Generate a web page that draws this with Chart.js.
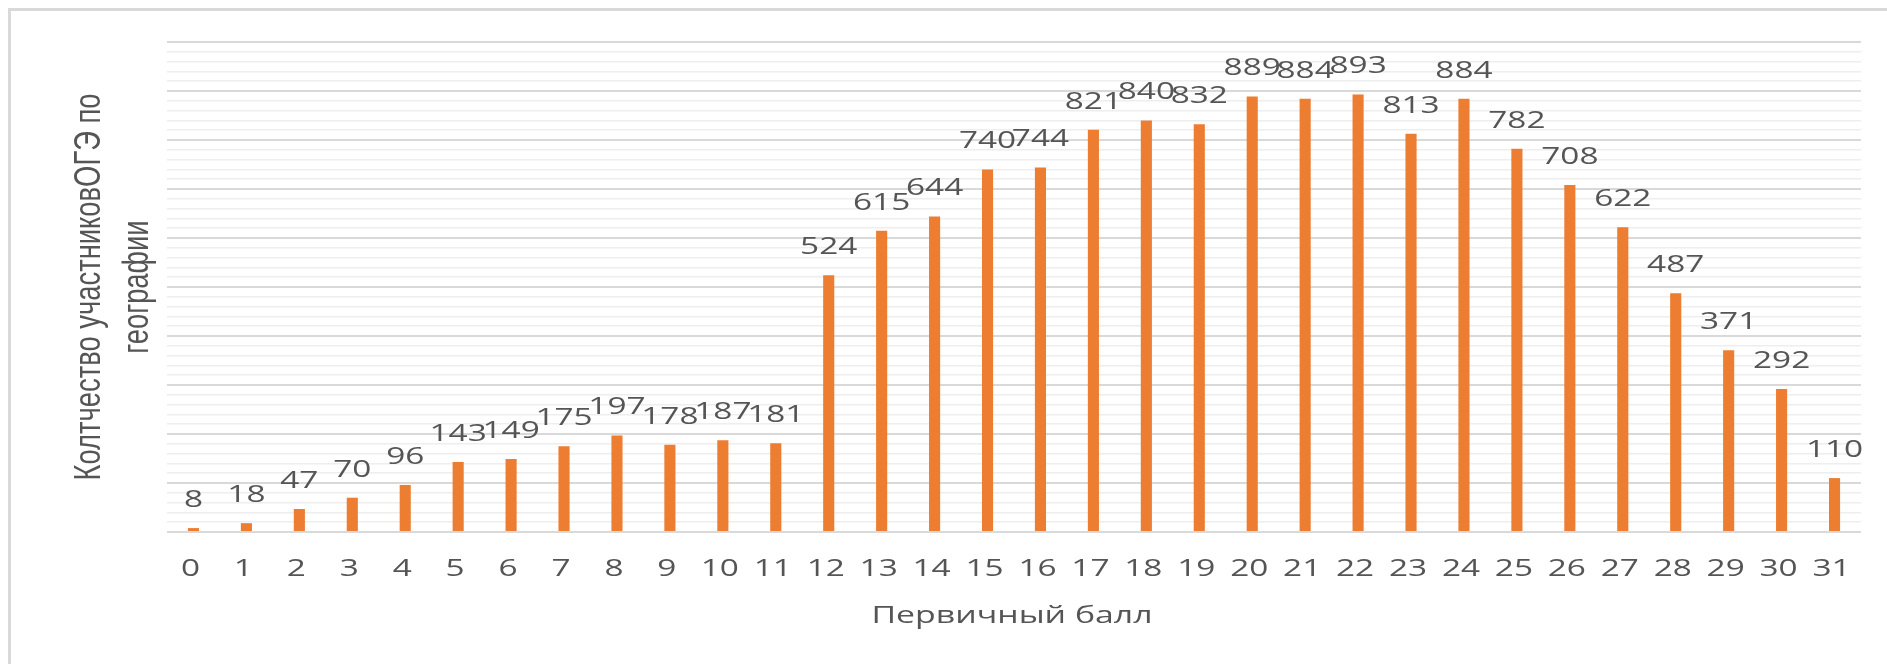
<!DOCTYPE html>
<html>
<head>
<meta charset="utf-8">
<script src="https://cdn.jsdelivr.net/npm/chart.js@4.4.1/dist/chart.umd.min.js"></script>
<style>
  html, body { margin: 0; padding: 0; background: #ffffff; }
  #wrap { width: 1887px; height: 664px; position: relative; }
</style>
</head>
<body>
<div id="wrap"><canvas id="c" width="1887" height="664"></canvas></div>
<script>
// ---- data ----
const categories = ['0','1','2','3','4','5','6','7','8','9','10','11','12','13','14','15','16','17','18','19','20','21','22','23','24','25','26','27','28','29','30','31'];
const counts = [8, 18, 47, 70, 96, 143, 149, 175, 197, 178, 187, 181, 524, 615, 644, 740, 744, 821, 840, 832, 889, 884, 893, 813, 884, 782, 708, 622, 487, 371, 292, 110];
const yTitleLines = ['Колтчество участниковОГЭ по', 'географии'];
const xTitle = 'Первичный балл';
const yMin = 0, yMax = 1000, yMinorStep = 20, yMajorStep = 100;

// ---- styles ----
const BAR = '#ed7d31';
const TEXT = '#555555';
const NUM_FONT = '23px "Open Sans"';
const STRETCH = 1.45;

function stretchedText(ctx, text, x, baseY, sx) {
  ctx.save();
  ctx.translate(x, baseY);
  ctx.scale(sx, 1);
  ctx.textAlign = 'center';
  ctx.textBaseline = 'alphabetic';
  ctx.fillText(text, 0, 0);
  ctx.restore();
}

const decorPlugin = {
  id: 'decor',
  beforeDraw(chart) {
    const ctx = chart.ctx;
    ctx.save();
    ctx.fillStyle = '#ffffff';
    ctx.fillRect(0, 0, chart.width, chart.height);
    ctx.fillStyle = '#d9d9d9';
    ctx.fillRect(8, 8, chart.width, 3);
    ctx.fillRect(8, 8, 3, chart.height);
    ctx.restore();
  },
  afterDatasetsDraw(chart) {
    const ctx = chart.ctx;
    const meta = chart.getDatasetMeta(0);
    const xs = chart.scales.x;
    const area = chart.chartArea;
    ctx.save();
    ctx.fillStyle = TEXT;
    ctx.font = NUM_FONT;
    // data labels
    meta.data.forEach((el, i) => {
      stretchedText(ctx, String(counts[i]), el.x, el.y - 21, STRETCH);
    });
    // category tick labels
    categories.forEach((c, i) => {
      stretchedText(ctx, c, xs.getPixelForTick(i) - 3, area.bottom + 44, STRETCH);
    });
    // x title
    ctx.font = '24px "Open Sans"';
    const w = ctx.measureText(xTitle).width;
    stretchedText(ctx, xTitle, (area.left + area.right) / 2 - 2, area.bottom + 91, 281 / w);
    // y title (two lines, rotated)
    ctx.font = '36px "Liberation Sans", Arial, sans-serif';
    const w1 = ctx.measureText(yTitleLines[0]).width;
    const k = 387 / w1;
    const cy = (area.top + area.bottom) / 2;
    const baseXs = [100, 148];
    yTitleLines.forEach((line, j) => {
      ctx.save();
      ctx.translate(baseXs[j], cy);
      ctx.rotate(-Math.PI / 2);
      ctx.scale(k, 1);
      ctx.textAlign = 'center';
      ctx.textBaseline = 'alphabetic';
      ctx.fillText(line, 0, 0);
      ctx.restore();
    });
    ctx.restore();
  }
};

new Chart(document.getElementById('c'), {
  type: 'bar',
  data: {
    labels: categories,
    datasets: [{
      data: counts,
      backgroundColor: BAR,
      borderWidth: 0,
      barPercentage: 0.21,
      categoryPercentage: 1.0
    }]
  },
  options: {
    responsive: false,
    animation: false,
    devicePixelRatio: 1,
    layout: { padding: { left: 167, right: 26, top: 42, bottom: 0 } },
    plugins: { legend: { display: false }, tooltip: { enabled: false }, title: { display: false } },
    scales: {
      x: {
        grid: { display: false, drawTicks: false },
        border: { display: false },
        ticks: { display: false },
        afterFit(scale) { scale.height = 132; }
      },
      y: {
        min: yMin,
        max: yMax,
        ticks: { display: false, stepSize: yMinorStep },
        border: { display: false },
        grid: {
          drawTicks: false,
          color: (c) => (c.tick && c.tick.value % yMajorStep === 0) ? '#d9d9d9' : '#eeeeee',
          lineWidth: (c) => (c.tick && c.tick.value % yMajorStep === 0) ? 2 : 1.5
        }
      }
    }
  },
  plugins: [decorPlugin]
});
</script>
</body>
</html>
